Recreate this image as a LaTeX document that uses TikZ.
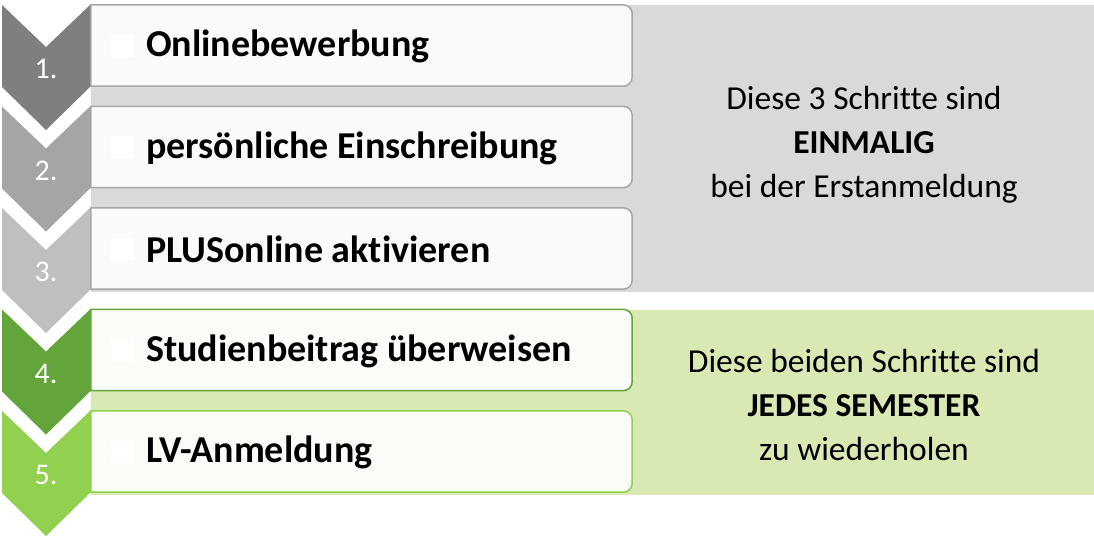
\documentclass[tikz,border=0pt]{standalone}
\usepackage{fontspec}
\setmainfont{Carlito}[RawFeature={-liga;-clig;-dlig}]
\usetikzlibrary{positioning}

\definecolor{chevA}{HTML}{7F7F7F}
\definecolor{chevB}{HTML}{A5A5A5}
\definecolor{chevC}{HTML}{BFBFBF}
\definecolor{chevD}{HTML}{63A53A}
\definecolor{chevE}{HTML}{92D050}
\definecolor{bgGray}{HTML}{D9D9D9}
\definecolor{bgGreen}{HTML}{D8E9B3}
\definecolor{edgeGray}{HTML}{A6A6A6}
\definecolor{fillGray}{HTML}{FAFAFA}
\definecolor{fillGreen}{HTML}{FAFCF7}

\begin{document}
\begin{tikzpicture}[
    x=1pt, y=-1pt,
    stepbox/.style={rectangle, minimum width=541pt, minimum height=81pt, inner sep=0pt},
    steptext/.style={anchor=west, inner sep=0pt, font=\fontsize{38}{44}\selectfont\bfseries},
    numtext/.style={text=white, inner sep=0pt, font=\fontsize{30}{34}\selectfont},
    bullet/.style={fill=white, minimum size=22pt, inner sep=0pt},
    notetext/.style={align=center, font=\fontsize{33.5}{44}\selectfont}
  ]
    \useasboundingbox (0,0) rectangle (1094,541);

    %=== Hintergrund (rechts) ===%
    \fill[bgGray]  (91,5)   rectangle (1094,292);
    \fill[bgGreen] (91,310) rectangle (1094,495);

    %=== Schritte: Box, Pfeil, Nummer ===%
    \foreach \i/\ty/\txt/\chev/\edge/\inner in {
      1/5/Onlinebewerbung/chevA/edgeGray/fillGray,
      2/106.5/persönliche Einschreibung/chevB/edgeGray/fillGray,
      3/208/PLUSonline aktivieren/chevC/edgeGray/fillGray,
      4/309.5/Studienbeitrag überweisen/chevD/chevD/fillGreen,
      5/411/LV-Anmeldung/chevE/chevE/fillGreen}{
      \node[stepbox] (s\i) at (361.5, \ty+40.5) {};
      \filldraw[fill=\inner, draw=\edge, line width=1.5pt]
        (s\i.north west) -- ([xshift=-9pt]s\i.north east)
        arc[start angle=90, end angle=0, radius=9pt]
        -- ([yshift=9pt]s\i.south east)
        arc[start angle=0, end angle=-90, radius=9pt]
        -- (s\i.south west) -- cycle;
      \fill[\chev] (2,\ty) -- (46,\ty+42) -- (90,\ty) -- (90,\ty+82)
        -- (46,\ty+125) -- (2,\ty+82) -- cycle;
      \node[numtext] (n\i) at (46,\ty+64) {\i.};
      \node[bullet] (q\i) at (121.5,\ty+40.5) {};
      \node[steptext] (t\i) at (146,\ty+41.5) {\txt};
    }

    %=== Hinweise ===%
    \node[notetext] (note1) at (864,145)
      {Diese 3 Schritte sind\\\textbf{EINMALIG}\\bei der Erstanmeldung};
    \node[notetext] (note2) at (864,405)
      {Diese beiden Schritte sind\\\textbf{JEDES SEMESTER}\\zu wiederholen};

  \end{tikzpicture}
\end{document}
